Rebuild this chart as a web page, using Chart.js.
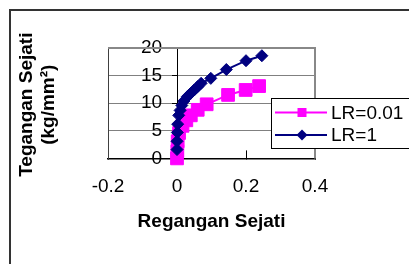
<!DOCTYPE html>
<html>
<head>
<meta charset="utf-8">
<script src="https://cdn.jsdelivr.net/npm/chart.js@4/dist/chart.umd.min.js"></script>
<style>
  html, body { margin: 0; padding: 0; background: #fff; overflow: hidden; }
</style>
</head>
<body>
<canvas id="toile" width="409" height="264"></canvas>
<script>
// LR=0.01 (pink squares)
const regangan001 = [0, 0.001, 0.002, 0.006, 0.016, 0.027, 0.04, 0.06, 0.086, 0.148, 0.199, 0.238]
const tegangan001 = [0, 1.3, 3.1, 4.6, 5.9, 6.9, 7.8, 8.8, 9.8, 11.5, 12.4, 13.1]
// LR=1 (navy diamonds)
const regangan1 = [0, 0, 0.001, 0.002, 0.005, 0.009, 0.014, 0.02, 0.03, 0.04, 0.05, 0.06, 0.07, 0.098, 0.143, 0.2, 0.246]
const tegangan1 = [1.6, 3.1, 4.7, 6.2, 7.8, 8.7, 9.6, 10.4, 11.2, 11.8, 12.4, 13.0, 13.6, 14.5, 16.1, 17.7, 18.6]

const seriesLabels = ['LR=0.01', 'LR=1']
const xTicks = [-0.2, 0, 0.2, 0.4]
const yTicks = [0, 5, 10, 15, 20]
const yTitle = ['Tegangan Sejati', '(kg/mm\u00b2)']
const xTitle = 'Regangan Sejati'

const pink = '#ff00ff'
const navy = '#000080'
const huruf = "'Liberation Sans', Arial, sans-serif"

Chart.defaults.font.family = huruf
Chart.defaults.color = '#000'

const toPoints = (xs, ys) => xs.map((x, i) => ({ x: x, y: ys[i] }))

// frame, plot border, y title and the boxed legend
const bingkai = {
  id: 'bingkai',
  beforeDraw(chart) {
    const c = chart.ctx
    c.save()
    c.fillStyle = '#fff'
    c.fillRect(0, 0, chart.width, chart.height)
    c.strokeStyle = '#333'
    c.lineWidth = 2
    c.beginPath()
    c.moveTo(10, chart.height)
    c.lineTo(10, 10)
    c.lineTo(chart.width, 10)
    c.stroke()
    // y axis title, two rotated lines
    c.fillStyle = '#000'
    c.font = 'bold 19px ' + huruf
    c.textAlign = 'center'
    c.textBaseline = 'middle'
    const midY = (chart.chartArea.top + chart.chartArea.bottom) / 2 + 1.5
    yTitle.forEach((t, i) => {
      c.save()
      c.translate(27 + i * 22, midY)
      c.rotate(-Math.PI / 2)
      c.fillText(t, 0, 0)
      c.restore()
    })
    c.restore()
  },
  beforeDatasetsDraw(chart) {
    const a = chart.chartArea
    const c = chart.ctx
    c.save()
    c.strokeStyle = '#888'
    c.lineWidth = 2
    c.beginPath()
    c.moveTo(a.left, a.top)
    c.lineTo(a.right, a.top)
    c.lineTo(a.right, a.bottom)
    c.stroke()
    c.restore()
  },
  afterDraw(chart) {
    const c = chart.ctx
    const bx = 271, by = 98
    c.save()
    c.fillStyle = '#fff'
    c.fillRect(bx, by, 160, 50)
    c.strokeStyle = '#000'
    c.lineWidth = 1
    c.strokeRect(bx + 0.5, by + 0.5, 160, 50)
    const rows = [112.5, 135]
    const sets = [chart.data.datasets[1], chart.data.datasets[0]]
    sets.forEach((ds, i) => {
      const y = rows[i]
      c.strokeStyle = ds.borderColor
      c.lineWidth = 2
      c.beginPath()
      c.moveTo(275, y)
      c.lineTo(327, y)
      c.stroke()
      c.fillStyle = ds.backgroundColor
      c.beginPath()
      if (ds.pointStyle === 'rect') {
        c.rect(297.5, y - 4.5, 9, 9)
      } else {
        c.moveTo(302, y - 5.5)
        c.lineTo(307.5, y)
        c.lineTo(302, y + 5.5)
        c.lineTo(296.5, y)
        c.closePath()
      }
      c.fill()
      c.fillStyle = '#000'
      c.font = '19px ' + huruf
      c.textBaseline = 'middle'
      c.fillText(ds.label, 331, y + 1)
    })
    c.restore()
  }
}

const config = {
  type: 'line',
  data: {
    datasets: [
      {
        label: seriesLabels[1],
        data: toPoints(regangan1, tegangan1),
        borderColor: navy,
        backgroundColor: navy,
        borderWidth: 2,
        pointStyle: 'rectRot',
        pointRadius: 6,
        pointBorderWidth: 1,
        pointHoverRadius: 6,
        tension: 0,
        clip: false,
        order: 0
      },
      {
        label: seriesLabels[0],
        data: toPoints(regangan001, tegangan001),
        borderColor: pink,
        backgroundColor: pink,
        borderWidth: 2,
        pointStyle: 'rect',
        pointRadius: 9,
        pointBorderWidth: 1,
        pointHoverRadius: 9,
        tension: 0,
        clip: false,
        order: 1
      }
    ]
  },
  options: {
    responsive: false,
    animation: false,
    events: [],
    layout: { padding: { top: 48, right: 94, bottom: 31, left: 108 } },
    plugins: {
      legend: { display: false },
      tooltip: { enabled: false },
      title: { display: false }
    },
    scales: {
      x: {
        type: 'linear',
        position: 'bottom',
        min: xTicks[0],
        max: xTicks[xTicks.length - 1],
        afterBuildTicks: (s) => { s.ticks = xTicks.map(v => ({ value: v })) },
        ticks: { padding: 25, font: { size: 19 }, color: '#000' },
        grid: { drawOnChartArea: false, tickLength: -8, tickColor: '#000' },
        border: { color: '#000', width: 1.5 },
        title: {
          display: true,
          text: xTitle,
          font: { size: 19, weight: 'bold' },
          color: '#000',
          padding: { top: -13, bottom: 0 }
        }
      },
      y: {
        type: 'linear',
        position: 'left',
        min: yTicks[0],
        max: yTicks[yTicks.length - 1],
        afterBuildTicks: (s) => { s.ticks = yTicks.map(v => ({ value: v })) },
        ticks: { mirror: true, crossAlign: 'far', padding: 33, font: { size: 19 }, color: '#000' },
        grid: { color: '#808080', drawTicks: false },
        border: { color: '#404040', width: 1 },
        afterFit: (s) => { s.width = 0 }
      },
      y0: {
        type: 'linear',
        position: { x: 0 },
        min: yTicks[0],
        max: yTicks[yTicks.length - 1],
        afterBuildTicks: (s) => { s.ticks = yTicks.map(v => ({ value: v })) },
        ticks: { display: false },
        grid: { drawOnChartArea: false, tickLength: 5, tickColor: '#000' },
        border: { color: '#000', width: 1 },
        afterFit: (s) => { s.width = 0 }
      }
    }
  },
  plugins: [bingkai]
}

new Chart(document.getElementById('toile'), config)
</script>
</body>
</html>
